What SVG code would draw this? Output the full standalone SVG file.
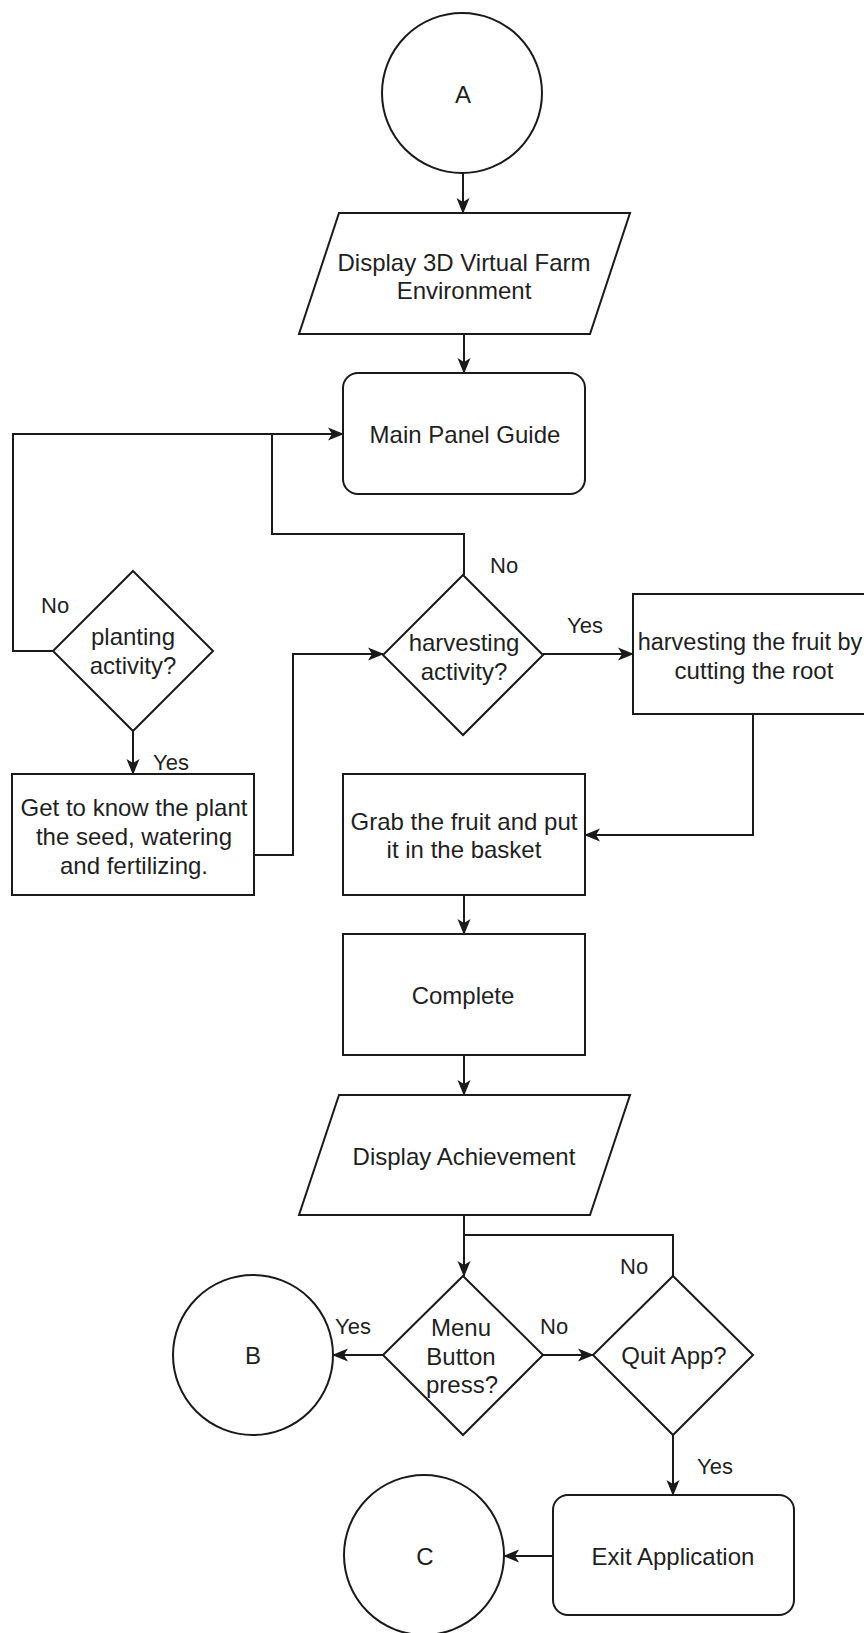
<svg xmlns="http://www.w3.org/2000/svg" width="864" height="1633" viewBox="0 0 864 1633">
  <defs>
    <style>
      .shape { fill: #ffffff; stroke: #1a1a1a; stroke-width: 2; }
      .edge { fill: none; stroke: #1a1a1a; stroke-width: 2; }
      .arrow { marker-end: url(#head); }
      .t { font-family: "Liberation Sans", Arial, sans-serif; font-size: 24px; fill: #1f1f1f; text-anchor: middle; }
      .lbl { font-family: "Liberation Sans", Arial, sans-serif; font-size: 22px; fill: #1f1f1f; }
    </style>
    <marker id="head" markerUnits="userSpaceOnUse" viewBox="0 0 16 16" refX="15" refY="8" markerWidth="16" markerHeight="16" orient="auto">
      <path d="M0,1.5 L16,8 L0,14.5 L4,8 Z" fill="#1a1a1a"/>
    </marker>
  </defs>

  <rect width="864" height="1633" fill="#ffffff"/>

  <!-- connectors -->
  <g id="connectors">
    <path class="edge arrow" d="M463,173 L463,213"/>
    <path class="edge arrow" d="M464,334 L464,373"/>
    <path class="edge arrow" d="M53,651 L13,651 L13,434 L343,434"/>
    <path class="edge" d="M464,575 L464,534 L272,534 L272,434"/>
    <path class="edge arrow" d="M133,731 L133,774"/>
    <path class="edge arrow" d="M254,855 L293,855 L293,654 L383,654"/>
    <path class="edge arrow" d="M543,654 L633,654"/>
    <path class="edge arrow" d="M753,714 L753,835 L585,835"/>
    <path class="edge arrow" d="M464,895 L464,934"/>
    <path class="edge arrow" d="M464,1055 L464,1095"/>
    <path class="edge arrow" d="M464,1215 L464,1276"/>
    <path class="edge" d="M673,1276 L673,1235 L464,1235"/>
    <path class="edge arrow" d="M383,1355 L333,1355"/>
    <path class="edge arrow" d="M543,1355 L593,1355"/>
    <path class="edge arrow" d="M673,1435 L673,1495"/>
    <path class="edge arrow" d="M553,1556 L504,1556"/>

    <text class="lbl" x="490" y="573">No</text>
    <text class="lbl" x="41" y="613">No</text>
    <text class="lbl" x="153" y="770">Yes</text>
    <text class="lbl" x="567" y="633">Yes</text>
    <text class="lbl" x="335" y="1334">Yes</text>
    <text class="lbl" x="540" y="1334">No</text>
    <text class="lbl" x="620" y="1274">No</text>
    <text class="lbl" x="697" y="1474">Yes</text>
  </g>

  <!-- nodes -->
  <g id="node-a">
    <circle class="shape" cx="462" cy="93" r="80"/>
    <text class="t" x="463" y="103">A</text>
  </g>

  <g id="node-display-farm">
    <polygon class="shape" points="339,213 630,213 590,334 299,334"/>
    <text class="t" x="464" y="271">Display 3D Virtual Farm</text>
    <text class="t" x="464" y="299">Environment</text>
  </g>

  <g id="node-main-panel">
    <rect class="shape" x="343" y="373" width="242" height="121" rx="15" ry="15"/>
    <text class="t" x="465" y="443">Main Panel Guide</text>
  </g>

  <g id="node-planting">
    <polygon class="shape" points="133,571 213,651 133,731 53,651"/>
    <text class="t" x="133" y="645">planting</text>
    <text class="t" x="133" y="674">activity?</text>
  </g>

  <g id="node-plant-guide">
    <rect class="shape" x="12" y="774" width="242" height="121"/>
    <text class="t" x="134" y="816">Get to know the plant</text>
    <text class="t" x="134" y="845">the seed, watering</text>
    <text class="t" x="134" y="874">and fertilizing.</text>
  </g>

  <g id="node-harvesting">
    <polygon class="shape" points="463,575 543,655 463,735 383,655"/>
    <text class="t" x="464" y="651">harvesting</text>
    <text class="t" x="464" y="680">activity?</text>
  </g>

  <g id="node-cut-root">
    <rect class="shape" x="633" y="594" width="242" height="120"/>
    <text class="t" x="750" y="650" style="font-size:23.5px">harvesting the fruit by</text>
    <text class="t" x="754" y="679">cutting the root</text>
  </g>

  <g id="node-basket">
    <rect class="shape" x="343" y="774" width="242" height="121"/>
    <text class="t" x="464" y="830">Grab the fruit and put</text>
    <text class="t" x="464" y="858">it in the basket</text>
  </g>

  <g id="node-complete">
    <rect class="shape" x="343" y="934" width="242" height="121"/>
    <text class="t" x="463" y="1004">Complete</text>
  </g>

  <g id="node-achievement">
    <polygon class="shape" points="339,1095 630,1095 590,1215 299,1215"/>
    <text class="t" x="464" y="1165">Display Achievement</text>
  </g>

  <g id="node-menu">
    <polygon class="shape" points="463,1276 543,1355 463,1435 383,1355"/>
    <text class="t" x="461" y="1336">Menu</text>
    <text class="t" x="461" y="1365">Button</text>
    <text class="t" x="462" y="1393">press?</text>
  </g>

  <g id="node-quit">
    <polygon class="shape" points="673,1276 753,1355 673,1435 593,1355"/>
    <text class="t" x="674" y="1364">Quit App?</text>
  </g>

  <g id="node-b">
    <circle class="shape" cx="253" cy="1355" r="80"/>
    <text class="t" x="253" y="1364">B</text>
  </g>

  <g id="node-exit">
    <rect class="shape" x="553" y="1495" width="241" height="120" rx="15" ry="15"/>
    <text class="t" x="673" y="1565">Exit Application</text>
  </g>

  <g id="node-c">
    <circle class="shape" cx="424" cy="1555" r="80"/>
    <text class="t" x="425" y="1565">C</text>
  </g>
</svg>
